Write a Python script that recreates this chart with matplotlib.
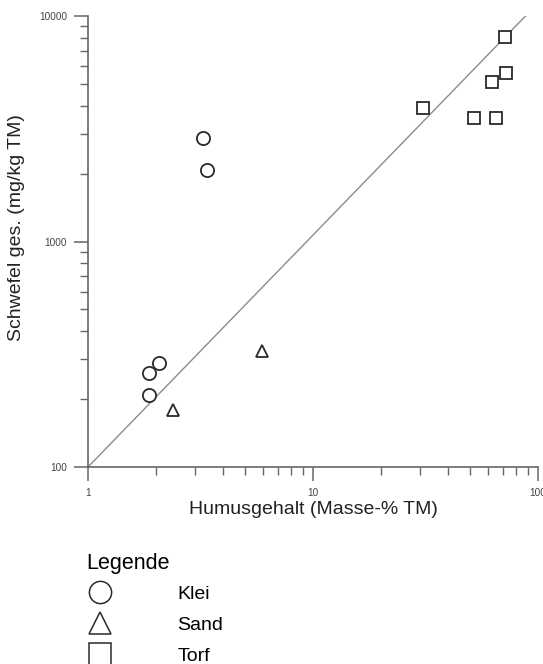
import numpy as np
import matplotlib
matplotlib.use("Agg")
import matplotlib.pyplot as plt
from matplotlib.lines import Line2D
from matplotlib.ticker import LogLocator, FixedLocator, FixedFormatter, NullFormatter

plt.rcParams['font.family'] = ['Liberation Sans', 'DejaVu Sans']

# Klei
klei_x = [3.24, 3.38, 2.07, 1.87, 1.87]
klei_y = [2880, 2080, 289, 261, 208]
# Sand
sand_x = [2.39, 5.93]
sand_y = [179, 327]
# Torf
torf_x = [71.3, 72.0, 62.5, 30.8, 51.9, 65.1]
torf_y = [8070, 5590, 5100, 3910, 3530, 3530]
# reference line
line_x = [1, 88]
line_y = [100, 10000]

xticks = [1, 10, 100]
xticklabels = ['1', '10', '100']
yticks = [100, 1000, 10000]
yticklabels = ['100', '1000', '10000']

W, H = 543, 664
fig = plt.figure(figsize=(W / 100, H / 100), dpi=100)
ax = fig.add_axes([88 / W, 1 - 467 / H, 450 / W, 451 / H])
ax.set_xscale('log')
ax.set_yscale('log')
ax.set_xlim(1, 100)
ax.set_ylim(100, 10000)

ax.plot(line_x, line_y, color='#8c8c8c', lw=1.0, zorder=1)

mk = dict(ls='none', mfc='white', mec='#2a2a2a', mew=1.3, zorder=3, clip_on=False)
ax.plot(klei_x, klei_y, marker='o', ms=9.5, **mk)
ax.plot(sand_x, sand_y, marker='^', ms=9, **mk)
ax.plot(torf_x, torf_y, marker='s', ms=8.5, **mk)

for s in ['top', 'right']:
    ax.spines[s].set_visible(False)
for s in ['left', 'bottom']:
    ax.spines[s].set_color('#666666')
    ax.spines[s].set_linewidth(1.2)

ax.xaxis.set_major_locator(FixedLocator(xticks))
ax.xaxis.set_major_formatter(FixedFormatter(xticklabels))
ax.yaxis.set_major_locator(FixedLocator(yticks))
ax.yaxis.set_major_formatter(FixedFormatter(yticklabels))
ax.xaxis.set_minor_locator(LogLocator(base=10, subs=np.arange(2, 10)))
ax.yaxis.set_minor_locator(LogLocator(base=10, subs=np.arange(2, 10)))
ax.xaxis.set_minor_formatter(NullFormatter())
ax.yaxis.set_minor_formatter(NullFormatter())
ax.tick_params(which='major', length=10, width=1.1, color='#666666',
               labelsize=7.2, labelcolor='#444444', pad=5)
ax.tick_params(which='minor', length=5.5, width=1.0, color='#666666')

ax.set_xlabel('Humusgehalt (Masse-% TM)', fontsize=14, color='#222222', labelpad=2)
ax.set_ylabel('Schwefel ges. (mg/kg TM)', fontsize=14, color='#222222')
ax.yaxis.set_label_coords(-0.14, 0.53)

handles = [
    Line2D([], [], ls='none', marker='o', ms=16, mfc='white', mec='#2a2a2a', mew=1.1),
    Line2D([], [], ls='none', marker='^', ms=16, mfc='white', mec='#2a2a2a', mew=1.1),
    Line2D([], [], ls='none', marker='s', ms=16, mfc='white', mec='#2a2a2a', mew=1.1),
]
leg = ax.legend(handles, ['Klei', 'Sand', 'Torf'], title='Legende', loc='upper left',
                bbox_to_anchor=(86 / W, 1 - 553 / H), bbox_transform=fig.transFigure,
                frameon=False, fontsize=14, title_fontsize=15.5, alignment='left',
                handlelength=1.4, handletextpad=3.3, labelspacing=0.7,
                borderpad=0, borderaxespad=0)
leg._legend_box.sep = 8

fig.savefig('out.png', dpi=100)
